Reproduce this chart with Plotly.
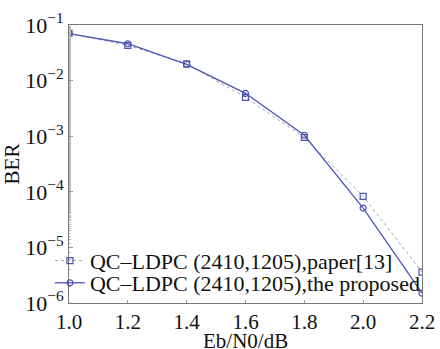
import plotly.graph_objects as go

ebn0 = [1.0, 1.2, 1.4, 1.6, 1.8, 2.0, 2.2]
ber_paper13 = [0.071, 0.043, 0.0200, 0.0050, 0.00095, 8.3e-5, 3.6e-6]
ber_proposed = [0.070, 0.046, 0.0195, 0.0059, 0.00104, 5.1e-5, 1.5e-6]
name_paper = "QC\u2013LDPC (2410,1205),paper[13]"
name_prop = "QC\u2013LDPC (2410,1205),the proposed"
y_tickvals = [1e-6, 1e-5, 1e-4, 1e-3, 1e-2, 1e-1]
y_ticktext = ["10<sup>\u22126</sup>", "10<sup>\u22125</sup>", "10<sup>\u22124</sup>",
              "10<sup>\u22123</sup>", "10<sup>\u22122</sup>", "10<sup>\u22121</sup>"]
x_tickvals = [1.0, 1.2, 1.4, 1.6, 1.8, 2.0, 2.2]
x_ticktext = ["1.0", "1.2", "1.4", "1.6", "1.8", "2.0", "2.2"]
x_title = "Eb/N0/dB"
y_title = "BER"

font_fam = "Liberation Serif, DejaVu Serif, serif"

fig = go.Figure()
fig.add_trace(go.Scatter(
    x=ebn0, y=ber_paper13, name=name_paper, mode="lines+markers", legend="legend",
    line=dict(color="#a0a0bc", width=1, dash="dot"),
    marker=dict(symbol="square-open", size=6, color="#4a55b0", line=dict(width=1.2)),
))
fig.add_trace(go.Scatter(
    x=ebn0, y=ber_proposed, name=name_prop, mode="lines+markers", legend="legend2",
    line=dict(color="#4a55b8", width=1.3),
    marker=dict(symbol="circle-open", size=6, color="#4a55b0", line=dict(width=1.2)),
))

leg_common = dict(xanchor="left", yanchor="middle", bgcolor="rgba(255,255,255,0)",
                  font=dict(size=22, family=font_fam, color="#111111"), itemwidth=30)

fig.update_layout(
    width=440, height=349,
    margin=dict(l=69, r=18, t=25, b=46, autoexpand=False),
    paper_bgcolor="white", plot_bgcolor="white",
    font=dict(family=font_fam, color="#111111", size=20),
    showlegend=True,
    legend=dict(x=-0.054, y=0.152, **leg_common),
    legend2=dict(x=-0.054, y=0.072, **leg_common),
    xaxis=dict(range=[1.0, 2.2], tickvals=x_tickvals, ticktext=x_ticktext,
               showline=True, linecolor="#777777", linewidth=1, mirror=True,
               ticks="inside", ticklen=3, tickcolor="#999999",
               showgrid=False, zeroline=False, automargin=False,
               tickfont=dict(size=21)),
    yaxis=dict(type="log", range=[-6, -1], tickvals=y_tickvals, ticktext=y_ticktext,
               showline=True, linecolor="#777777", linewidth=1, mirror=True,
               ticks="inside", ticklen=4, tickcolor="#999999",
               minor=dict(ticks="inside", ticklen=2, tickcolor="#bbbbbb", showgrid=False),
               showgrid=False, zeroline=False, automargin=False,
               tickfont=dict(size=22),
               title=dict(text=y_title, font=dict(size=21), standoff=6)),
    annotations=[dict(text=x_title, xref="paper", yref="paper", x=0.5, y=-0.136,
                      xanchor="center", yanchor="middle", showarrow=False,
                      font=dict(size=21, family=font_fam, color="#111111"))],
)

fig.write_html("out.html", config={"displayModeBar": False},
               post_script="document.body.style.margin='0';document.body.style.overflow='hidden';")
